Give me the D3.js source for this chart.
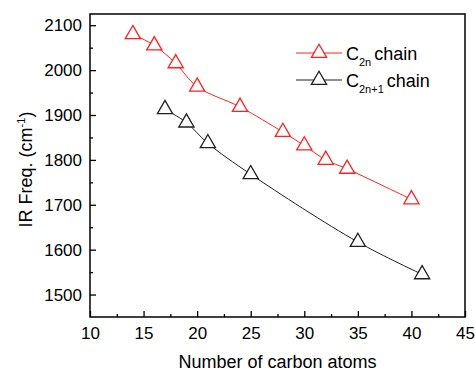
<!DOCTYPE html>
<html>
<head>
<meta charset="utf-8">
<script src="https://cdn.jsdelivr.net/npm/d3@7"></script>
<style>
  body { margin: 0; background: #fff; }
  text { font-family: "Liberation Sans", Arial, sans-serif; fill: #000; }
</style>
</head>
<body>
<svg id="chart"></svg>
<script>
// values
const evenAtoms = [14, 16, 18, 20, 24, 28, 30, 32, 34, 40];
const evenFreq = [2080, 2055, 2015, 1963, 1918, 1862, 1832, 1800, 1780, 1712];
const oddAtoms = [17, 19, 21, 25, 35, 41];
const oddFreq = [1913, 1883, 1837, 1768, 1617, 1545];
const xTicks = [10, 15, 20, 25, 30, 35, 40, 45];
const yTicks = [1500, 1600, 1700, 1800, 1900, 2000, 2100];

const W = 475, H = 373;
const margin = { left: 90, right: 10, top: 14, bottom: 56 };
const width = W - margin.left - margin.right;
const height = H - margin.top - margin.bottom;

const svg = d3.select("#chart").attr("width", W).attr("height", H);
const g = svg.append("g").attr("transform", `translate(${margin.left},${margin.top})`);

const x = d3.scaleLinear().domain([10, 45]).range([0, width]);
const y = d3.scaleLinear().domain([1450, 2125]).range([height, 0]);

// frame
g.append("rect")
  .attr("width", width).attr("height", height)
  .attr("fill", "none").attr("stroke", "#000").attr("stroke-width", 1.5);

// axes, ticks pointing inside
const xAxis = g.append("g").attr("transform", `translate(0,${height})`)
  .call(d3.axisBottom(x).tickValues(xTicks).tickSize(-6).tickPadding(10).tickFormat(d3.format("d")));
const xMinor = g.append("g").attr("transform", `translate(0,${height})`)
  .call(d3.axisBottom(x).tickValues(d3.range(12.5, 45, 5)).tickSize(-3).tickFormat(""));
const yAxis = g.append("g")
  .call(d3.axisLeft(y).tickValues(yTicks).tickSize(-6).tickPadding(8).tickFormat(d3.format("d")));
const yMinor = g.append("g")
  .call(d3.axisLeft(y).tickValues(d3.range(1550, 2125, 100)).tickSize(-3).tickFormat(""));

[xAxis, xMinor, yAxis, yMinor].forEach(a => {
  a.select(".domain").remove();
  a.selectAll(".tick line").attr("stroke", "#000").attr("stroke-width", 1.3);
  a.selectAll(".tick text").attr("font-size", 17).attr("font-family", "Liberation Sans, Arial, sans-serif");
});

// axis titles
g.append("text")
  .attr("x", width / 2).attr("y", height + 51)
  .attr("text-anchor", "middle").attr("font-size", 18)
  .text("Number of carbon atoms");

const yt = g.append("text")
  .attr("transform", `translate(-58,${height / 2 + 4}) rotate(-90)`)
  .attr("text-anchor", "middle").attr("font-size", 18);
yt.append("tspan").text("IR Freq. (cm");
yt.append("tspan").attr("font-size", 11).attr("dy", -7).text("-1");
yt.append("tspan").attr("dy", 7).text(")");

const tri = d3.symbol().type(d3.symbolTriangle).size(100);

function series(xs, ys, color) {
  const pts = xs.map((d, i) => [d, ys[i]]);
  g.append("path")
    .datum(pts)
    .attr("fill", "none").attr("stroke", color).attr("stroke-width", 1)
    .attr("d", d3.line().x(d => x(d[0])).y(d => y(d[1])).curve(d3.curveCatmullRom));
  g.selectAll(null).data(pts).enter().append("path")
    .attr("d", tri)
    .attr("transform", d => `translate(${x(d[0])},${y(d[1])})`)
    .attr("fill", "#fff").attr("stroke", color).attr("stroke-width", 1.3);
}

series(evenAtoms, evenFreq, "#ff2020");
series(oddAtoms, oddFreq, "#202020");

// legend
const legend = [
  { color: "#ff2020", sub: "2n" },
  { color: "#202020", sub: "2n+1" }
];
legend.forEach((d, i) => {
  const ly = 39 + i * 27;
  const lg = g.append("g").attr("transform", `translate(206,${ly})`);
  lg.append("line").attr("x1", 0).attr("x2", 46)
    .attr("stroke", d.color).attr("stroke-width", 1);
  lg.append("path").attr("d", tri).attr("transform", "translate(23,0)")
    .attr("fill", "#fff").attr("stroke", d.color).attr("stroke-width", 1.3);
  const t = lg.append("text").attr("x", 50).attr("y", 7).attr("font-size", 18);
  t.append("tspan").text("C");
  t.append("tspan").attr("font-size", 11).attr("dy", 6).text(d.sub);
  t.append("tspan").attr("dy", -6).attr("dx", 3).text("chain");
});
</script>
</body>
</html>
